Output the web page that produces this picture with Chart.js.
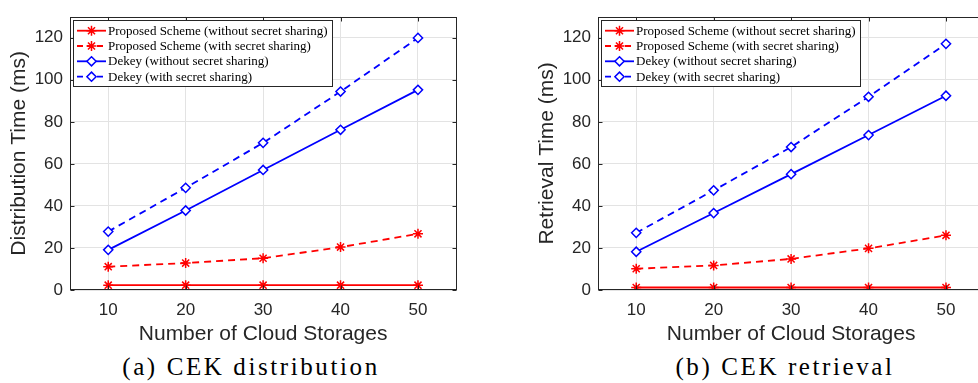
<!DOCTYPE html>
<html>
<head>
<meta charset="utf-8">
<script src="https://cdn.jsdelivr.net/npm/chart.js@4/dist/chart.umd.min.js"></script>
<style>
body { margin: 0; width: 978px; height: 383px; overflow: hidden; background: #fff; position: relative; }
canvas { position: absolute; top: 0; }
.cap { position: absolute; top: 354px; font-family: 'Liberation Serif', serif; font-size: 25px; letter-spacing: 2.6px;
       line-height: 1; white-space: nowrap; color: #000; transform: translateX(-50%); }
</style>
</head>
<body>
<canvas id="distChart" width="490" height="350" style="left:0"></canvas>
<canvas id="retChart" width="490" height="350" style="left:528px"></canvas>
<div class="cap" style="left:251px">(a) CEK distribution</div>
<div class="cap" style="left:785px">(b) CEK retrieval</div>
<script>
// Data
const storages = [10, 20, 30, 40, 50];
const xTicks = [10, 20, 30, 40, 50];
const yTicks = [0, 20, 40, 60, 80, 100, 120];
const seriesLabels = [
    'Proposed Scheme (without secret sharing)',
    'Proposed Scheme (with secret sharing)',
    'Dekey (without secret sharing)',
    'Dekey (with secret sharing)'
];

const distPropNo = [2.3, 2.3, 2.3, 2.3, 2.3];
const distPropSS = [11.1, 12.8, 15.1, 20.4, 26.7];
const distDekeyNo = [19.1, 37.8, 57.1, 76.2, 95.2];
const distDekeySS = [27.8, 48.6, 70.0, 94.4, 119.9];

const retPropNo = [1.2, 1.2, 1.2, 1.2, 1.2];
const retPropSS = [10.1, 11.7, 14.8, 19.8, 26.0];
const retDekeyNo = [18.2, 36.6, 55.1, 73.7, 92.4];
const retDekeySS = [27.2, 47.4, 68.0, 91.9, 117.1];

const AXIS = '#262626';
const styles = [
    { color: '#ff0000', dash: [], marker: 'star', r: 5 },
    { color: '#ff0000', dash: [7, 5], marker: 'star', r: 5 },
    { color: '#0000ff', dash: [], marker: 'rectRot', r: 4.6 },
    { color: '#0000ff', dash: [7, 5], marker: 'rectRot', r: 4.6 }
];

function drawMarker(ctx, type, x, y, r, color) {
    ctx.save();
    ctx.setLineDash([]);
    ctx.strokeStyle = color;
    ctx.lineWidth = 1.5;
    ctx.beginPath();
    if (type === 'star') {
        ctx.moveTo(x - r, y); ctx.lineTo(x + r, y);
        ctx.moveTo(x, y - r); ctx.lineTo(x, y + r);
        const d = r * Math.SQRT1_2;
        ctx.moveTo(x - d, y - d); ctx.lineTo(x + d, y + d);
        ctx.moveTo(x - d, y + d); ctx.lineTo(x + d, y - d);
        ctx.stroke();
    } else {
        ctx.moveTo(x, y - r); ctx.lineTo(x + r, y); ctx.lineTo(x, y + r); ctx.lineTo(x - r, y); ctx.closePath();
        ctx.fillStyle = '#fff';
        ctx.fill();
        ctx.stroke();
    }
    ctx.restore();
}

// box, inward ticks and legend (matlab look)
const matlabBox = {
    id: 'matlabBox',
    afterDatasetsDraw(chart) {
        const { ctx, chartArea: a, scales } = chart;
        const L = Math.round(a.left) + 0.5, R = Math.round(a.right) - 0.5;
        const T = Math.round(a.top) + 0.5, B = Math.round(a.bottom) - 0.5;
        ctx.save();
        ctx.strokeStyle = AXIS;
        ctx.lineWidth = 1;
        ctx.strokeRect(L, T, R - L, B - T);
        ctx.beginPath();
        xTicks.forEach(v => {
            const px = Math.round(scales.x.getPixelForValue(v)) + 0.5;
            ctx.moveTo(px, B); ctx.lineTo(px, B - 4);
            ctx.moveTo(px, T); ctx.lineTo(px, T + 4);
        });
        yTicks.forEach(v => {
            const py = Math.round(scales.y.getPixelForValue(v)) + 0.5;
            ctx.moveTo(L, py); ctx.lineTo(L + 4, py);
            ctx.moveTo(R, py); ctx.lineTo(R - 4, py);
        });
        ctx.stroke();
        ctx.restore();
    },
    afterDraw(chart) {
        const { ctx, chartArea: a } = chart;
        const bx = Math.round(a.left + 3) + 0.5, by = Math.round(a.top + 3) + 0.5;
        ctx.save();
        ctx.fillStyle = '#fff';
        ctx.fillRect(bx, by, 259, 66);
        ctx.strokeStyle = AXIS;
        ctx.lineWidth = 1;
        ctx.strokeRect(bx, by, 259, 66);
        const rows = [14, 29.3, 44.6, 60];
        chart.data.datasets.forEach((ds, i) => {
            const st = styles[i];
            const y = a.top + rows[i];
            ctx.save();
            ctx.strokeStyle = st.color;
            ctx.lineWidth = 1.8;
            ctx.setLineDash(st.dash.length ? [6, 4] : []);
            ctx.beginPath();
            ctx.moveTo(a.left + 7.5, y); ctx.lineTo(a.left + 36.5, y);
            ctx.stroke();
            ctx.restore();
            drawMarker(ctx, st.marker, a.left + 22, y, st.r, st.color);
            ctx.fillStyle = '#000';
            ctx.font = '13px "Liberation Serif"';
            ctx.textBaseline = 'middle';
            ctx.textAlign = 'left';
            ctx.fillText(ds.label, a.left + 38.5, y + 0.5);
        });
        ctx.restore();
    }
};

function makeChart(id, yTitle, series) {
    const datasets = series.map((vals, i) => ({
        label: seriesLabels[i],
        data: vals.map((v, j) => ({ x: storages[j], y: v })),
        borderColor: styles[i].color,
        backgroundColor: styles[i].marker === 'star' ? styles[i].color : '#fff',
        borderWidth: 1.8,
        borderDash: styles[i].dash,
        pointStyle: styles[i].marker,
        pointRadius: styles[i].r,
        pointBorderWidth: 1.5,
        pointBorderColor: styles[i].color,
        pointBackgroundColor: '#fff',
        tension: 0,
        fill: false
    }));

    return new Chart(document.getElementById(id).getContext('2d'), {
        type: 'line',
        data: { datasets },
        options: {
            responsive: false,
            animation: false,
            devicePixelRatio: 1,
            layout: { padding: { top: 10, right: 33.3, left: 0, bottom: 0 } },
            plugins: { legend: { display: false }, tooltip: { enabled: false } },
            scales: {
                x: {
                    type: 'linear', min: 5, max: 55,
                    afterBuildTicks: s => { s.ticks = xTicks.map(v => ({ value: v })); },
                    afterFit: s => { s.height = 60; },
                    grid: { color: '#e3e3e3', drawTicks: false },
                    border: { display: false },
                    ticks: { maxRotation: 0, padding: 10, color: AXIS, font: { family: 'Liberation Sans', size: 17 } },
                    title: { display: true, text: 'Number of Cloud Storages', color: AXIS,
                             font: { family: 'Liberation Sans', size: 21 }, padding: { top: 0, bottom: 3 } }
                },
                y: {
                    min: 0, max: 130,
                    afterBuildTicks: s => { s.ticks = yTicks.map(v => ({ value: v })); },
                    afterFit: s => { s.width = 69.5; },
                    grid: { color: '#e3e3e3', drawTicks: false },
                    border: { display: false },
                    ticks: { padding: 6.5, color: AXIS, font: { family: 'Liberation Sans', size: 17 } },
                    title: { display: true, text: yTitle, color: AXIS,
                             font: { family: 'Liberation Sans', size: 21 }, padding: { top: 7, bottom: 0 } }
                }
            }
        },
        plugins: [matlabBox]
    });
}

makeChart('distChart', 'Distribution Time (ms)', [distPropNo, distPropSS, distDekeyNo, distDekeySS]);
makeChart('retChart', 'Retrieval Time (ms)', [retPropNo, retPropSS, retDekeyNo, retDekeySS]);
</script>
</body>
</html>
